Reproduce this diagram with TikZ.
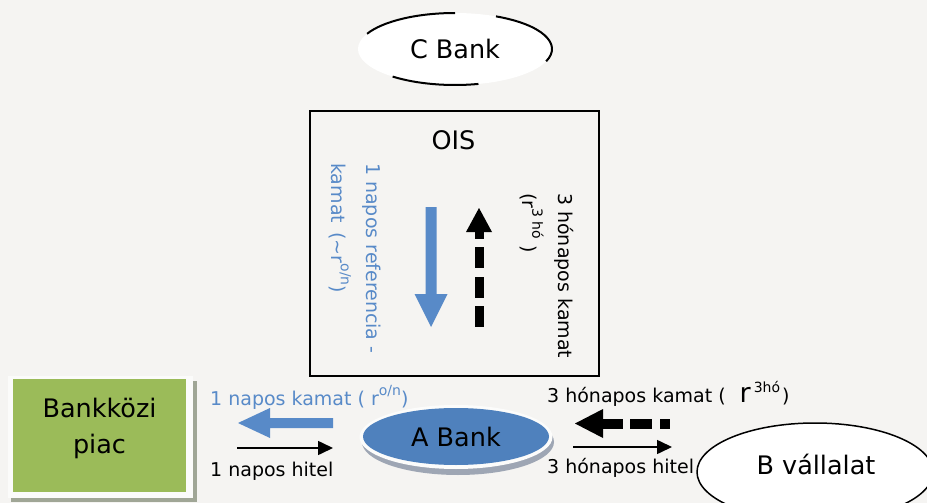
\documentclass[tikz,border=0pt]{standalone}
\usepackage{fontspec}
\setmainfont{DejaVu Sans}
\usetikzlibrary{arrows.meta,shapes.geometric,calc}
\definecolor{bg}{HTML}{F5F4F2}
\definecolor{arrblue}{RGB}{88,138,200}
\definecolor{bankblue}{HTML}{4F81BD}
\definecolor{piacgreen}{HTML}{9BBB59}
\definecolor{shadowgray}{RGB}{158,166,180}
\definecolor{boxshadow}{RGB}{160,166,150}
\newcommand\mysup[1]{\raisebox{0.5em}{\fontsize{14}{14}\selectfont #1}}
\begin{document}
\begin{tikzpicture}[x=1pt,y=-1pt,
  lbl/.style={inner sep=0pt, font=\fontsize{19}{22}\selectfont},
  big/.style={inner sep=0pt, font=\fontsize{25.5}{30}\selectfont},
  thinarrow/.style={line width=1.6pt, -{Triangle[length=15pt,width=14pt]}},
  blockfill/.style={fill=black}]
\useasboundingbox (0,0) rectangle (927,503);
\clip (0,0) rectangle (927,503);
\fill[bg] (0,0) rectangle (927,503);

% C Bank
\node[ellipse, fill=white, minimum width=194pt, minimum height=72pt, inner sep=0pt,
      font=\fontsize{25.5}{30}\selectfont] (cbank) at (455,49) {C Bank};
\begin{scope}[shift={(cbank.center)}, y=1pt]
  \draw[line width=2pt] (155:97 and 36) arc[start angle=155,end angle=90,x radius=97,y radius=36];
  \draw[line width=2pt] (65:97 and 36) arc[start angle=65,end angle=-20,x radius=97,y radius=36];
  \draw[line width=2pt] (-130:97 and 36) arc[start angle=-130,end angle=-76,x radius=97,y radius=36];
\end{scope}

% OIS box
\node[draw, line width=1.6pt, minimum width=289pt, minimum height=265pt, anchor=north west, inner sep=0pt] (ois) at (309,110) {};
\node[big, anchor=base] (oislbl) at (453.5,149) {OIS};

% blue down arrow
\fill[arrblue] (425.5,207) -- (436.5,207) -- (436.5,294) -- (447.5,294) -- (431,327) -- (414.5,294) -- (425.5,294) -- cycle;
% black dashed up arrow
\fill (479,208) -- (492,232) -- (466,232) -- cycle;
\fill (474.5,231) rectangle (483.5,239);
\fill (474.5,247) rectangle (483.5,268);
\fill (474.5,277) rectangle (483.5,298);
\fill (474.5,306) rectangle (483.5,327);

% rotated labels
\node[lbl, text=arrblue, rotate=-90, anchor=west] (r1) at (372,163) {1 napos referencia -};
\node[lbl, text=arrblue, rotate=-90, anchor=west] (r2) at (340,163) {kamat \,(\textasciitilde r\mysup{o/n})};
\node[lbl, rotate=-90, anchor=west] (r3) at (564,193) {3 hónapos kamat};
\node[lbl, rotate=-90, anchor=west] (r4) at (532,193) {(r\mysup{3 hó} )};

% Bankkozi piac
\fill[boxshadow] (11,381) rectangle (197,502);
\fill[white!60!bg] (8,376) rectangle (193,498);
\node[fill=piacgreen, minimum width=173pt, minimum height=113pt, inner sep=0pt] (piac) at (99.5,435.5) {};
\node[big, align=center, font=\fontsize{25.5}{36}\selectfont, anchor=north] (piaclbl) at (99.5,398) {Bankközi\\piac};

% left side labels and arrows
\node[lbl, text=arrblue, anchor=base west] (t1) at (210,405) {1 napos kamat ( r\mysup{o/n})};
\node[lbl, anchor=base west] (t2) at (210,476) {1 napos hitel};
\fill[arrblue] (238,423) -- (270,408) -- (270,418) -- (333,418) -- (333,428) -- (270,428) -- (270,438) -- cycle;
\coordinate (l1) at (237,448);
\coordinate (l2) at (333,448);
\draw[thinarrow] (l1) -- (l2);

% A Bank
\fill[shadowgray] (458,442) ellipse[x radius=96, y radius=33];
\fill[white!70!bg] (456,437) ellipse[x radius=96.5, y radius=32];
\node[ellipse, fill=bankblue, minimum width=186pt, minimum height=57pt, inner sep=0pt,
      font=\fontsize{25.5}{30}\selectfont] (abank) at (456,436.5) {A Bank};

% right side labels and arrows
\node[lbl, anchor=base west] (t3) at (547,402) {3 hónapos kamat (\hspace{14pt}{\fontsize{27}{27}\selectfont r}\hspace{3pt}\mysup{3hó}\hspace{2pt})};
\node[lbl, anchor=base west] (t4) at (547,473) {3 hónapos hitel};
\fill (575,423.5) -- (603,409) -- (603,438) -- cycle;
\fill (602,419) rectangle (623,429);
\fill (630,419) rectangle (652,429);
\fill (660,419) rectangle (670,429);
\coordinate (r1a) at (573,447);
\coordinate (r1b) at (672,447);
\draw[thinarrow] (r1a) -- (r1b);

% B vallalat
\node[ellipse, draw, line width=1.5pt, fill=white, minimum width=236pt, minimum height=98pt, inner sep=0pt] (bvall) at (815,472) {};
\node[big, anchor=base] (bvlbl) at (816,474) {B vállalat};
\end{tikzpicture}
\end{document}
